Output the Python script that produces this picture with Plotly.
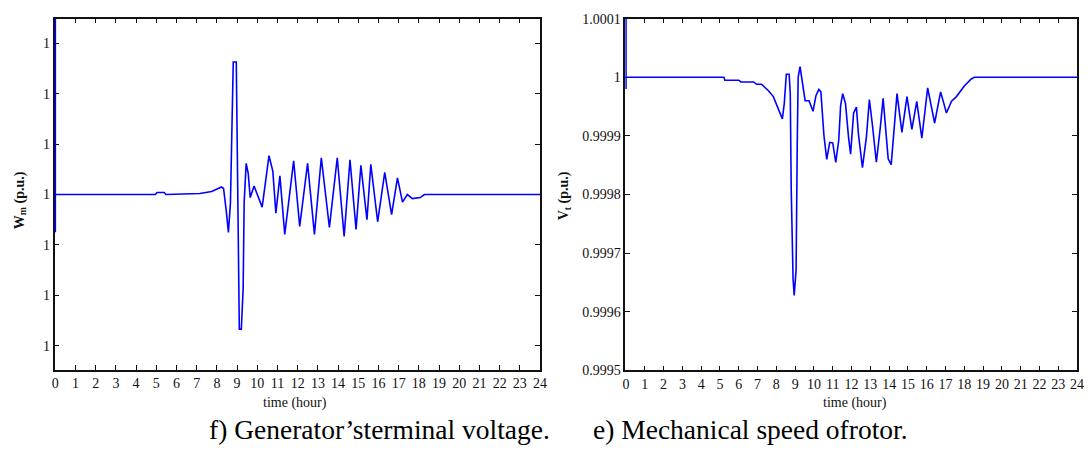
import plotly.graph_objects as go

W, H = 1092, 450

# ---- Left chart: W_m (deviation from 1 p.u., in units of 1e-5 p.u.) ----
hours_wm = [0, 0, 0, 4.95, 5.04, 5.39, 5.48, 7.15, 7.74, 8.23, 8.33, 8.47, 8.57, 8.67, 8.72, 8.77, 8.81, 8.96,
            9.01, 9.06, 9.11, 9.21, 9.30, 9.35, 9.45, 9.55, 9.65, 9.84, 10.24, 10.58, 10.77, 10.92, 11.12, 11.36,
            11.80, 12.10, 12.49, 12.83, 13.17, 13.57, 13.96, 14.30, 14.59, 14.89, 15.13, 15.43, 15.62, 15.96,
            16.31, 16.65, 16.94, 17.19, 17.43, 17.68, 18.07, 18.27, 24]
wm_dev = [-0.75, 4.5, 0, 0, 0.04, 0.04, 0, 0.02, 0.06, 0.15, 0.12, -0.35, -0.75, -0.17, 0.9, 1.77, 2.63, 2.63,
          0.94, -1.9, -2.67, -2.67, -1.85, -0.15, 0.62, 0.42, -0.06, 0.17, -0.25, 0.77, 0.46, -0.37, 0.37, -0.79,
          0.67, -0.63, 0.62, -0.79, 0.73, -0.65, 0.73, -0.83, 0.69, -0.69, 0.58, -0.5, 0.6, -0.54,
          0.44, -0.4, 0.33, -0.15, 0, -0.08, -0.06, 0, 0]
wm_tick_vals = [-3, -2, -1, 0, 1, 2, 3]
wm_tick_labels = ["1", "1", "1", "1", "1", "1", "1"]

# ---- Right chart: V_t (p.u.) ----
hours_vt = [0, 0, 0, 5.21, 5.26, 6.00, 6.11, 6.79, 6.95, 7.21, 7.58, 7.84, 8.11, 8.32, 8.42, 8.53, 8.68, 8.74,
            8.79, 8.89, 8.95, 9.05, 9.11, 9.16, 9.26, 9.42, 9.53, 9.74, 9.95, 10.11, 10.26, 10.37, 10.53, 10.68,
            10.84, 11.00, 11.16, 11.32, 11.42, 11.53, 11.68, 11.84, 11.95, 12.11, 12.26, 12.37, 12.58, 12.79,
            12.95, 13.11, 13.32, 13.53, 13.68, 13.95, 14.11, 14.42, 14.68, 14.95, 15.21, 15.47, 15.74, 16.05,
            16.42, 16.74, 17.05, 17.32, 17.58, 18.00, 18.37, 18.53, 24]
vt = [0.99998, 1.00015, 1.0, 1.0, 0.999995, 0.999995, 0.999992, 0.999992, 0.999988, 0.999988, 0.999977,
      0.999967, 0.999947, 0.999929, 0.999955, 1.000005, 1.000005, 0.999972, 0.99981, 0.999655, 0.999628,
      0.999671, 0.999881, 1.0, 1.000018, 0.999985, 0.99996, 0.99996, 0.999942, 0.999969, 0.999979, 0.999975,
      0.999901, 0.99986, 0.999889, 0.999888, 0.999855, 0.999893, 0.999952, 0.999972, 0.999955, 0.999898,
      0.999869, 0.999939, 0.999949, 0.999902, 0.999846, 0.999898, 0.999962, 0.999919, 0.999855, 0.999914,
      0.999964, 0.999861, 0.999851, 0.999972, 0.999906, 0.999967, 0.999911, 0.999959, 0.999896, 0.999982,
      0.999922, 0.999975, 0.999939, 0.999959, 0.999967, 0.999985, 0.999997, 1.0, 1.0]
vt_tick_vals = [0.9995, 0.9996, 0.9997, 0.9998, 0.9999, 1.0, 1.0001]
vt_tick_labels = ["0.9995", "0.9996", "0.9997", "0.9998", "0.9999", "1", "1.0001"]

hour_ticks = list(range(0, 25))

x_title = "time (hour)"
wm_title = "<b>W<sub>m</sub> (p.u.)</b>"
vt_title = "<b>V<sub>t</sub> (p.u.)</b>"
caption_left = "f) Generator’sterminal voltage."
caption_right = "e) Mechanical speed ofrotor."

SERIF = "Liberation Serif"
BLUE = "#0000ff"
INK = "#111111"

fig = go.Figure()
fig.add_trace(go.Scatter(x=hours_wm, y=wm_dev, mode="lines", line=dict(color=BLUE, width=1.6),
                         xaxis="x", yaxis="y", showlegend=False))
fig.add_trace(go.Scatter(x=hours_vt, y=vt, mode="lines", line=dict(color=BLUE, width=1.6),
                         xaxis="x2", yaxis="y2", showlegend=False))

axis_common = dict(showline=True, linecolor=INK, linewidth=1.6, mirror="allticks",
                   ticks="inside", ticklen=5, tickwidth=1.3, tickcolor=INK,
                   showgrid=False, zeroline=False, layer="below traces",
                   tickfont=dict(family=SERIF, size=14, color=INK))

def px_x(p):
    return p / W

def px_y(p):
    return 1 - p / H

fig.update_layout(
    width=W, height=H,
    margin=dict(l=0, r=0, t=0, b=0),
    paper_bgcolor="white", plot_bgcolor="white",
    font=dict(family=SERIF, color=INK),
    xaxis=dict(domain=[px_x(52), px_x(542)], range=[-0.04, 24], tickvals=hour_ticks,
               anchor="y", **axis_common),
    yaxis=dict(domain=[px_y(375), px_y(12)], range=[-3.47, 3.49], tickvals=wm_tick_vals,
               ticktext=wm_tick_labels, anchor="x", **axis_common),
    xaxis2=dict(domain=[px_x(628), px_x(1084)], range=[-0.04, 24], tickvals=hour_ticks,
                anchor="y2", **axis_common),
    yaxis2=dict(domain=[px_y(376), px_y(12)], range=[0.9995, 1.0001], tickvals=vt_tick_vals,
                ticktext=vt_tick_labels, anchor="x2", **axis_common),
)

ann = []
ann.append(dict(text=x_title, x=px_x(295), y=px_y(410), xref="paper", yref="paper",
                showarrow=False, xanchor="center", yanchor="middle",
                font=dict(family=SERIF, size=14, color=INK)))
ann.append(dict(text=x_title, x=px_x(860), y=px_y(410), xref="paper", yref="paper",
                showarrow=False, xanchor="center", yanchor="middle",
                font=dict(family=SERIF, size=14, color=INK)))
ann.append(dict(text=wm_title, x=px_x(17), y=px_y(200), xref="paper", yref="paper", textangle=-90,
                showarrow=False, xanchor="center", yanchor="middle",
                font=dict(family=SERIF, size=14, color=INK)))
ann.append(dict(text=vt_title, x=px_x(567), y=px_y(195), xref="paper", yref="paper", textangle=-90,
                showarrow=False, xanchor="center", yanchor="middle",
                font=dict(family=SERIF, size=14, color=INK)))
ann.append(dict(text=caption_left, x=px_x(206), y=px_y(437), xref="paper", yref="paper",
                showarrow=False, xanchor="left", yanchor="middle",
                font=dict(family=SERIF, size=27.5, color="black")))
ann.append(dict(text=caption_right, x=px_x(593), y=px_y(437), xref="paper", yref="paper",
                showarrow=False, xanchor="left", yanchor="middle",
                font=dict(family=SERIF, size=27.5, color="black")))
fig.update_layout(annotations=ann)

fig.write_html("out.html")
